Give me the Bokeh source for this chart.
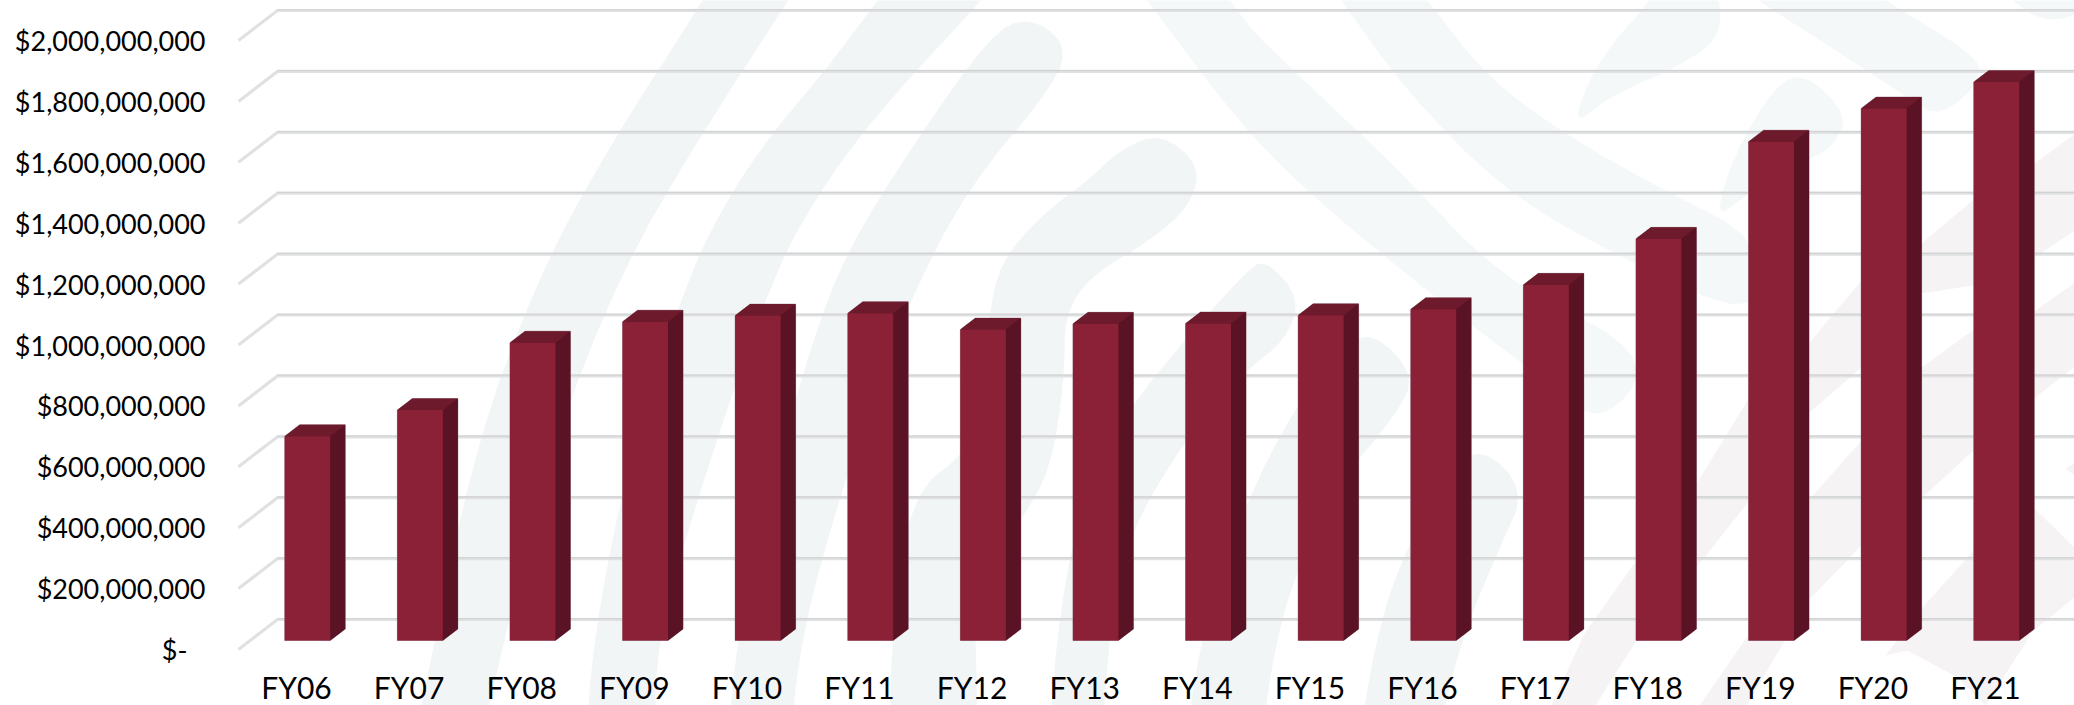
from bokeh.core.properties import value
from bokeh.embed import file_html
from bokeh.models import ColumnDataSource, LabelSet, Range1d
from bokeh.plotting import figure
from bokeh.resources import INLINE

# Annual totals in dollars
years = ["FY06", "FY07", "FY08", "FY09", "FY10", "FY11", "FY12", "FY13",
         "FY14", "FY15", "FY16", "FY17", "FY18", "FY19", "FY20", "FY21"]
totals = [671e6, 757e6, 978e6, 1047e6, 1067e6, 1075e6, 1021e6, 1040e6,
          1041e6, 1068e6, 1088e6, 1168e6, 1319e6, 1638e6, 1747e6, 1834e6]

tick_values = [0, 200e6, 400e6, 600e6, 800e6, 1000e6, 1200e6, 1400e6, 1600e6, 1800e6, 2000e6]
tick_labels = ["$-", "$200,000,000", "$400,000,000", "$600,000,000", "$800,000,000",
               "$1,000,000,000", "$1,200,000,000", "$1,400,000,000", "$1,600,000,000",
               "$1,800,000,000", "$2,000,000,000"]

WIDTH, HEIGHT = 2074, 705
SLOT = 112.6            # pixels between neighbouring columns
FIRST_CENTER = 307      # pixel centre of the first column
BASELINE = 640          # pixel row of the zero line on the front plane
PX_PER_UNIT = 60.9 / 200e6
BAR_W = 45.5 / SLOT

def up(px):
    """Vertical pixel distance expressed in dollars."""
    return px / PX_PER_UNIT

def over(px):
    """Horizontal pixel distance expressed in column slots."""
    return px / SLOT

DEPTH_X, DEPTH_Y = over(15), up(11.5)

p = figure(
    width=WIDTH, height=HEIGHT, output_backend="svg", toolbar_location=None,
    x_range=Range1d(-FIRST_CENTER / SLOT, (WIDTH - FIRST_CENTER) / SLOT),
    y_range=Range1d(up(BASELINE - HEIGHT), up(BASELINE)),
    x_axis_type=None, y_axis_type=None, min_border=0,
    outline_line_color=None, background_fill_color="white", border_fill_color="white",
)
p.grid.visible = False
p.extra_x_ranges["screen"] = Range1d(0, WIDTH)
p.extra_y_ranges["screen"] = Range1d(HEIGHT, 0)


def soften(points, rounds=2):
    """Corner-cut a closed outline so the ribbons have smooth edges and rounded ends."""
    for _ in range(rounds):
        out = []
        for i, (ax, ay) in enumerate(points):
            bx, by = points[(i + 1) % len(points)]
            out.append((0.75 * ax + 0.25 * bx, 0.75 * ay + 0.25 * by))
            out.append((0.25 * ax + 0.75 * bx, 0.25 * ay + 0.75 * by))
        points = out
    return points


# Decorative background ribbons, outlined in page pixels
ribbons_grey = [
    [(735, -60), (703, 0), (615, 135), (540, 270), (473, 450), (421, 705), (410, 760),
     (478, 760), (488, 705), (550, 450), (621, 270), (700, 135), (788, 0), (825, -60)],
    [(925, -60), (877, 0), (823, 72), (772, 132), (730, 193), (690, 270), (630, 450), (592, 640), (585, 760),
     (655, 760), (655, 640), (712, 450), (775, 270), (818, 193), (862, 132), (914, 72), (981, 0), (1030, -60)],
    [(990, 34), (912, 145), (846, 251), (812, 340), (775, 470), (740, 610), (725, 760),
     (788, 760), (800, 640), (835, 510), (872, 400), (905, 310), (965, 190), (1056, 82), (1066, 42), (1028, 16)],
    [(1118, 150), (1090, 178), (1040, 215), (1000, 262), (988, 315), (986, 400), (968, 450), (909, 495),
     (891, 640), (888, 760), (978, 760), (975, 640), (975, 600), (1020, 520), (1050, 470), (1064, 380), (1064, 315),
     (1090, 275), (1150, 240), (1190, 205), (1200, 165), (1160, 132)],
    [(1245, 272), (1186, 337), (1127, 410), (1085, 490), (1060, 600), (1046, 760),
     (1100, 760), (1110, 620), (1130, 530), (1186, 437), (1245, 370), (1285, 340), (1300, 298), (1265, 258)],
    [(1336, 350), (1280, 430), (1230, 540), (1200, 640), (1182, 760),
     (1258, 760), (1275, 640), (1300, 560), (1340, 480), (1395, 415), (1415, 375), (1372, 330)],
    [(1448, 470), (1400, 560), (1375, 640), (1355, 760),
     (1432, 760), (1460, 640), (1500, 545), (1525, 490), (1482, 446)],
]
ribbons_pale = [
    [(1100, -60), (1147, 0), (1234, 117), (1304, 189), (1395, 265), (1475, 328), (1566, 396), (1596, 420),
     (1640, 385), (1628, 340), (1502, 279), (1395, 166), (1314, 90), (1234, 13), (1200, -60)],
    [(1300, -60), (1341, 0), (1405, 90), (1502, 189), (1609, 252), (1760, 322),
     (1760, 238), (1662, 189), (1566, 135), (1486, 76), (1427, 0), (1380, -60)],
    [(1700, -40), (1757, 0), (1851, 60), (1907, 97), (1941, 118), (1988, 72), (1957, 43), (1884, 0), (1830, -40)],
    [(1985, -25), (2011, 0), (2047, 24), (2100, 5), (2100, -25)],
    [(1670, -30), (1650, 0), (1597, 60), (1570, 128), (1607, 97), (1691, 60), (1724, 30), (1712, -30)],
    [(1774, 85), (1732, 157), (1714, 220), (1747, 193), (1809, 158), (1832, 147), (1848, 115), (1805, 72)],
]
ribbons_rose = [
    [(1530, 760), (1551, 705), (1584, 633), (1636, 560), (1696, 483), (1749, 397), (1808, 343), (1861, 280),
     (1921, 243), (1972, 200), (2034, 163), (2120, 100), (2120, 200), (2034, 257), (1972, 285), (1921, 293),
     (1861, 367), (1808, 413), (1749, 500), (1696, 567), (1636, 640), (1595, 705), (1570, 760)],
    [(1675, 760), (1699, 705), (1749, 633), (1808, 500), (1861, 440), (1921, 367), (1972, 330), (2035, 310),
     (2120, 250), (2120, 330), (2035, 397), (1973, 450), (1922, 497), (1861, 545), (1808, 600), (1746, 705), (1715, 760)],
    [(1885, 655), (1922, 607), (1973, 550), (2005, 530), (2033, 507), (2074, 547), (2130, 600), (2074, 597),
     (2033, 630), (1985, 705), (1957, 677), (1907, 650)],
    [(2120, 430), (2065, 468), (2120, 510)],
]

for group, tint, rounds in ((ribbons_grey, "#f2f5f6", 2), (ribbons_pale, "#f5f8f9", 2), (ribbons_rose, "#f6f3f4", 0)):
    shapes = [soften(r, rounds) for r in group]
    p.patches(
        [[x for x, _ in s] for s in shapes], [[y for _, y in s] for s in shapes],
        fill_color=tint, line_color=None,
        x_range_name="screen", y_range_name="screen",
    )

# Gridlines run along the back wall and fold forward along the side wall
WALL_LEFT, FLOOR_LEFT = 277, 238
BACK_RISE, FRONT_DROP = up(21), up(9)
p.multi_line(
    [[FLOOR_LEFT, WALL_LEFT, WIDTH] for _ in tick_values],
    [[t - FRONT_DROP, t + BACK_RISE, t + BACK_RISE] for t in tick_values],
    line_color="#e0e1e2", line_width=3.2, line_join="miter", x_range_name="screen",
)
p.multi_line(
    [[WALL_LEFT, WIDTH] for _ in tick_values],
    [[t + BACK_RISE + up(0.8), t + BACK_RISE + up(0.8)] for t in tick_values],
    line_color="#cfd0d1", line_width=1, x_range_name="screen",
)

# Columns: a faint silhouette, then the front face with extruded side and top faces
xs = list(range(len(years)))
half = BAR_W / 2
side_x = [[i + half, i + half + DEPTH_X, i + half + DEPTH_X, i + half] for i in xs]
side_y = [[0, DEPTH_Y, v + DEPTH_Y, v] for v in totals]
top_x = [[i - half, i - half + DEPTH_X, i + half + DEPTH_X, i + half] for i in xs]
top_y = [[v, v + DEPTH_Y, v + DEPTH_Y, v] for v in totals]
hull_x = [[i - half, i - half, i - half + DEPTH_X, i + half + DEPTH_X, i + half + DEPTH_X, i + half] for i in xs]
hull_y = [[0, v, v + DEPTH_Y, v + DEPTH_Y, DEPTH_Y, 0] for v in totals]

p.patches(hull_x, hull_y, fill_color="#5a1225", line_color="#a98f97", line_width=1, line_alpha=0.7)
p.patches(side_x, side_y, fill_color="#5a1225", line_color=None)
p.patches(top_x, top_y, fill_color="#6c1a2c", line_color=None)
bars = ColumnDataSource(dict(x=xs, top=totals))
p.vbar(x="x", top="top", bottom=0, width=BAR_W, source=bars, fill_color="#8a2136", line_color=None)

# Value labels beside the fold of the gridlines; the dash for zero sits a little further left
value_labels = ColumnDataSource(dict(
    x=[187 if t == 0 else 205 for t in tick_values],
    y=[t - FRONT_DROP for t in tick_values],
    text=tick_labels,
))
p.add_layout(LabelSet(
    x="x", y="y", text="text", source=value_labels, x_range_name="screen",
    text_align="right", text_baseline="middle", text_color="#000000",
    text_font=value("Lato"), text_font_size="27px",
))

# Category labels under the floor
year_labels = ColumnDataSource(dict(x=xs, y=[up(BASELINE - 686)] * len(xs), text=years))
p.add_layout(LabelSet(
    x="x", y="y", text="text", source=year_labels, x_offset=-11,
    text_align="center", text_baseline="middle", text_color="#000000",
    text_font=value("Lato"), text_font_size="30px",
))

open("out.html", "w").write(file_html(p, INLINE))
